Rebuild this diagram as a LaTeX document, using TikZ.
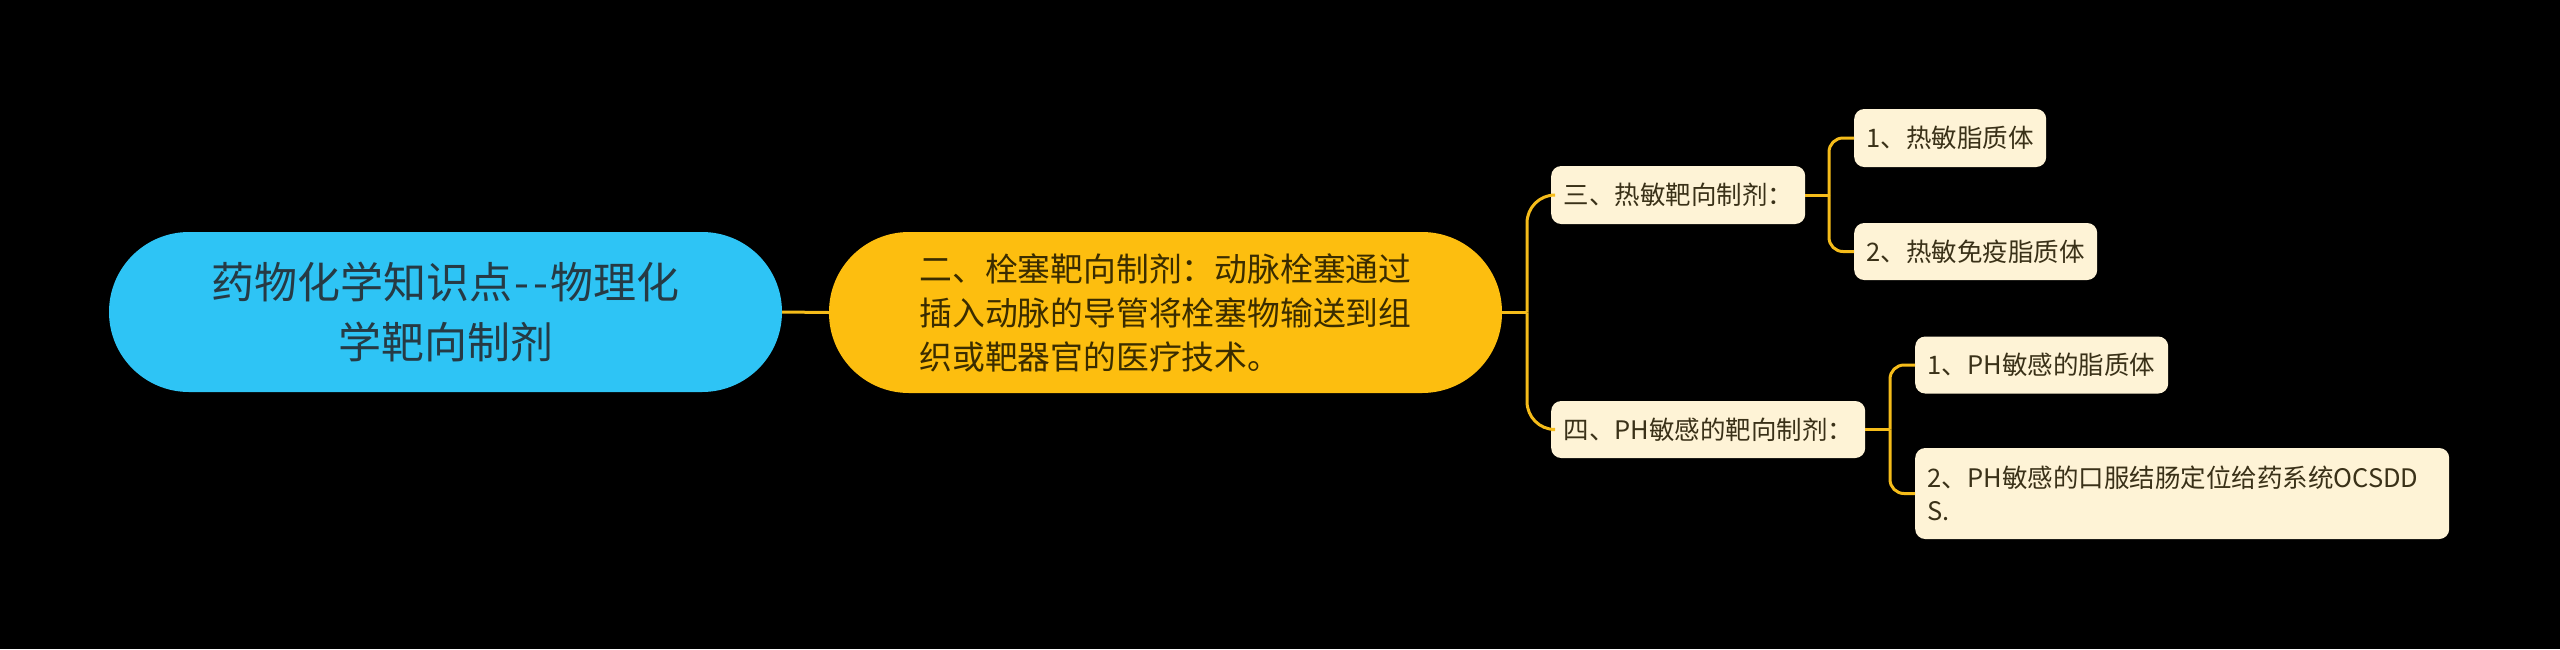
\documentclass[tikz,border=0pt]{standalone}
\usepackage{fontspec}
\setmainfont{Noto Sans CJK SC}
\definecolor{rootfill}{HTML}{2EC4F5}
\definecolor{mainfill}{HTML}{FDBE0F}
\definecolor{leaffill}{HTML}{FEF3D6}
\definecolor{connclr}{HTML}{F5BC1A}
\definecolor{roottext}{HTML}{263A44}
\definecolor{maintext}{HTML}{3A2C00}
\definecolor{leaftext}{HTML}{3A3118}
\begin{document}
\begin{tikzpicture}[x=1pt,y=-1pt,
  rootbox/.style={rectangle, rounded corners=80pt, fill=rootfill, minimum width=673pt, minimum height=160pt, inner sep=0pt, align=center, text=roottext, font=\fontsize{43}{60}\selectfont},
  mainbox/.style={rectangle, rounded corners=80pt, fill=mainfill, minimum width=673pt, minimum height=161pt, inner sep=0pt, align=left, text=maintext, font=\fontsize{32.8}{44}\selectfont},
  leafbox/.style={rectangle, rounded corners=10pt, fill=leaffill, anchor=west, inner xsep=12.5pt, inner ysep=0pt, align=left, text=leaftext, font=\fontsize{25.5}{33}\selectfont},
  conn/.style={draw=connclr, line width=3pt}
]
\fill[black] (0,0) rectangle (2560,649);
\useasboundingbox (0,0) rectangle (2560,649);

\node[rootbox] (root) at (445.5,312) {药物化学知识点\kern2pt-\kern4pt-\kern2pt物理化\\学靶向制剂};
\node[mainbox] (main) at (1165.5,312.5) {二、栓塞靶向制剂：动脉栓塞通过\\插入动脉的导管将栓塞物输送到组\\织或靶器官的医疗技术。};

\node[leafbox, minimum width=254pt, minimum height=58pt, text width=229pt] (three) at (1551,195) {三、热敏靶向制剂：};
\node[leafbox, minimum width=314pt, minimum height=57pt, text width=289pt] (four) at (1551,429.5) {四、PH敏感的靶向制剂：};

\node[leafbox, minimum width=192pt, minimum height=58pt, text width=167pt] (t1) at (1854,138) {1、热敏脂质体};
\node[leafbox, minimum width=243pt, minimum height=57pt, text width=218pt] (t2) at (1854,251.5) {2、热敏免疫脂质体};

\node[leafbox, minimum width=253pt, minimum height=57pt, text width=228pt] (f1) at (1915,365) {1、PH敏感的脂质体};
\node[leafbox, minimum width=534pt, minimum height=91pt, text width=509pt] (f2) at (1915,493.5) {2、PH敏感的口服结肠定位给药系统OCSDD\\S.};

\coordinate (j0) at (1527,312.5);
\coordinate (j1) at (1829,195);
\coordinate (j2) at (1890,429.5);

\draw[conn] (root.east) -- (main.west);
\draw[conn] (main.east) -- (j0);
\draw[conn, rounded corners=28pt] (j0) |- (three.west);
\draw[conn, rounded corners=28pt] (j0) |- (four.west);

\draw[conn] (three.east) -- (j1);
\draw[conn, rounded corners=14pt] (j1) |- (t1.west);
\draw[conn, rounded corners=14pt] (j1) |- (t2.west);

\draw[conn] (four.east) -- (j2);
\draw[conn, rounded corners=14pt] (j2) |- (f1.west);
\draw[conn, rounded corners=14pt] (j2) |- (f2.west);
\end{tikzpicture}
\end{document}
